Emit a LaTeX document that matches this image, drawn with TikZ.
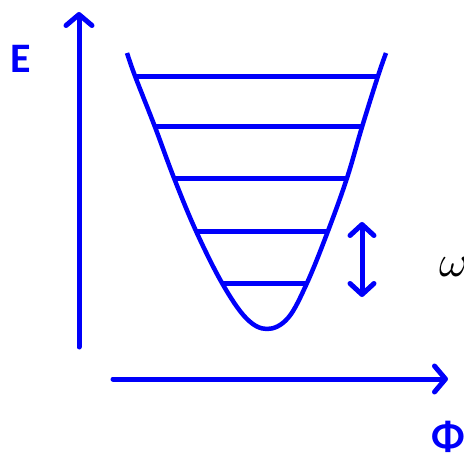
\documentclass[tikz,border=0pt]{standalone}
\usepackage{fontspec}
\setsansfont{Carlito}
\usepackage{xcolor}
\usepackage{graphicx}
\usetikzlibrary{arrows.meta}
\definecolor{potblue}{RGB}{0,0,250}

\begin{document}
\begin{tikzpicture}[x=1pt, y=-1pt,
  axis/.style={line width=5pt, potblue, line cap=round,
    -{Straight Barb[length=11pt, width=26pt, round]}},
  gap/.style={line width=5pt, potblue, line cap=round,
    {Straight Barb[length=11pt, width=24pt, round]}-{Straight Barb[length=11pt, width=24pt, round]}},
  well/.style={line width=4.5pt, potblue, line join=round},
  level/.style={line width=5pt, potblue},
  lbl/.style={font=\sffamily\bfseries\fontsize{42}{42}\selectfont, text=potblue, inner sep=0pt}
]
  \useasboundingbox (0,0) rectangle (464,455);
  \clip (0,0) rectangle (464,455);

  % axes
  \coordinate (eBase) at (79,347);
  \coordinate (eTip) at (79,12);
  \coordinate (phiBase) at (113,379);
  \coordinate (phiTip) at (448,379);
  \draw[axis] (eBase) -- (eTip);
  \draw[axis] (phiBase) -- (phiTip);
  \node[lbl] (energy) at (21,59) {E};
  \node[lbl, anchor=north west] (field) at (431,421) {Φ};

  % potential well
  \draw[well] plot[smooth, tension=0.6] coordinates {(127,53) (135,76) (155,127)
    (174,178) (196,231) (222,283) (246,318) (267,329) (288,318) (307,283)
    (328,231) (347,178) (362,127) (378,76) (386,53)};

  % energy levels
  \foreach \y/\xl/\xr in {76/135/378, 126/155/362, 178/173/347, 231/196/328, 283/221/307}
    \draw[level] (\xl,\y) -- (\xr,\y);

  % level spacing
  \coordinate (gapTop) at (362,222);
  \coordinate (gapBot) at (362,297);
  \draw[gap] (gapTop) -- (gapBot);
  \node[anchor=west, inner sep=0pt] (freq) at (439,267) {\scalebox{4.4}{$\omega$}};
\end{tikzpicture}
\end{document}
